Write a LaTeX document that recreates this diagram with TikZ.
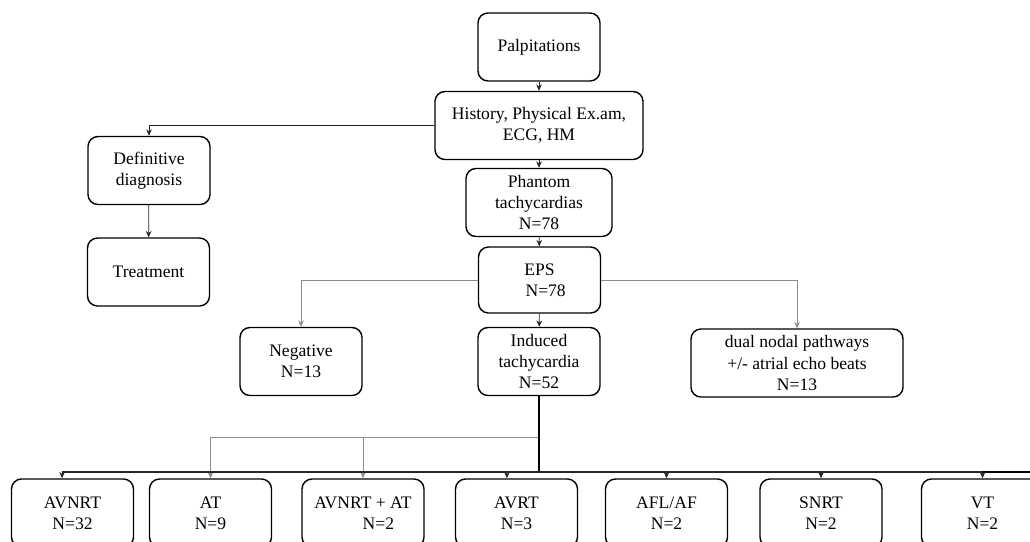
\documentclass[tikz,border=0pt]{standalone}
\usepackage{fontspec}
\setmainfont{Liberation Serif}
\usetikzlibrary{arrows.meta}
\begin{document}
\begin{tikzpicture}[>={Stealth[length=4.5pt,width=4pt]}, x=0.025cm, y=-0.025cm,
    box/.style={draw, line width=1pt, rounded corners=0.25cm, align=center, inner sep=0pt,
        minimum width=3.05cm, minimum height=1.7cm, font=\fontsize{12.5}{15}\selectfont},
    link/.style={->, line width=0.6pt, black!85},
    glink/.style={->, line width=0.6pt, black!45}]
\useasboundingbox (0,0) rectangle (1030,541);
\clip (0,0) rectangle (1030,541);
% main column
\node[box] (palp) at (539,47) {Palpitations};
\node[box, minimum width=5.2cm] (hist) at (539,125.5) {History, Physical Ex.am,\\ECG, HM};
\node[box, minimum width=3.65cm] (phan) at (539,202.5) {Phantom\\tachycardias\\N=78};
\node[box, minimum height=1.65cm] (eps) at (539.5,280) {EPS\\\hspace*{0.7em}N=78};
\node[box] (ind) at (539,361.5) {Induced\\tachycardia\\N=52};
% side branches
\node[box] (defn) at (149,170.5) {Definitive\\diagnosis};
\node[box] (treat) at (148.5,272) {Treatment};
\node[box] (neg) at (301,361.5) {Negative\\N=13};
\node[box, minimum width=5.3cm] (dual) at (797,363) {dual nodal pathways\\+/- atrial echo beats\\N=13};
% bottom row
\node[box] (avnrt) at (72.5,513) {AVNRT\\N=32};
\node[box] (at) at (210.5,513) {AT\\N=9};
\node[box] (avat) at (363,513) {AVNRT + AT\\\hspace*{1.75em}N=2};
\node[box] (avrt) at (516.5,513) {AVRT\\N=3};
\node[box] (afl) at (666.5,513) {AFL/AF\\N=2};
\node[box] (snrt) at (821,513) {SNRT\\N=2};
\node[box] (vt) at (982.5,513) {VT\\N=2};
\coordinate (gbus) at (539,437);
\coordinate (bus) at (539,472);
\coordinate (busend) at (1040,472);
% connectors
\draw[link] (palp) -- (hist);
\draw[link] (hist.west) -| (defn.north);
\draw[link] (defn) -- (treat);
\draw[link] (hist) -- (phan);
\draw[link] (phan) -- (eps);
\draw[link] (eps) -- (ind);
\draw[glink] (eps.west) -| (neg.north);
\draw[glink] (eps.east) -| (dual.north);
\draw[glink] (gbus) -| (at.north);
\draw[glink] (gbus) -| (avat.north);
\draw[line width=1pt] (ind.south) -- (bus);
\draw[line width=0.8pt] (bus) -- (busend);
\foreach \n/\s in {avnrt/-0.26cm, avrt/-0.24cm, afl/0cm, snrt/0cm, vt/0cm}
{
    \draw[link, line width=0.8pt] (bus) -| ([xshift=\s]\n.north);
}
\end{tikzpicture}
\end{document}
